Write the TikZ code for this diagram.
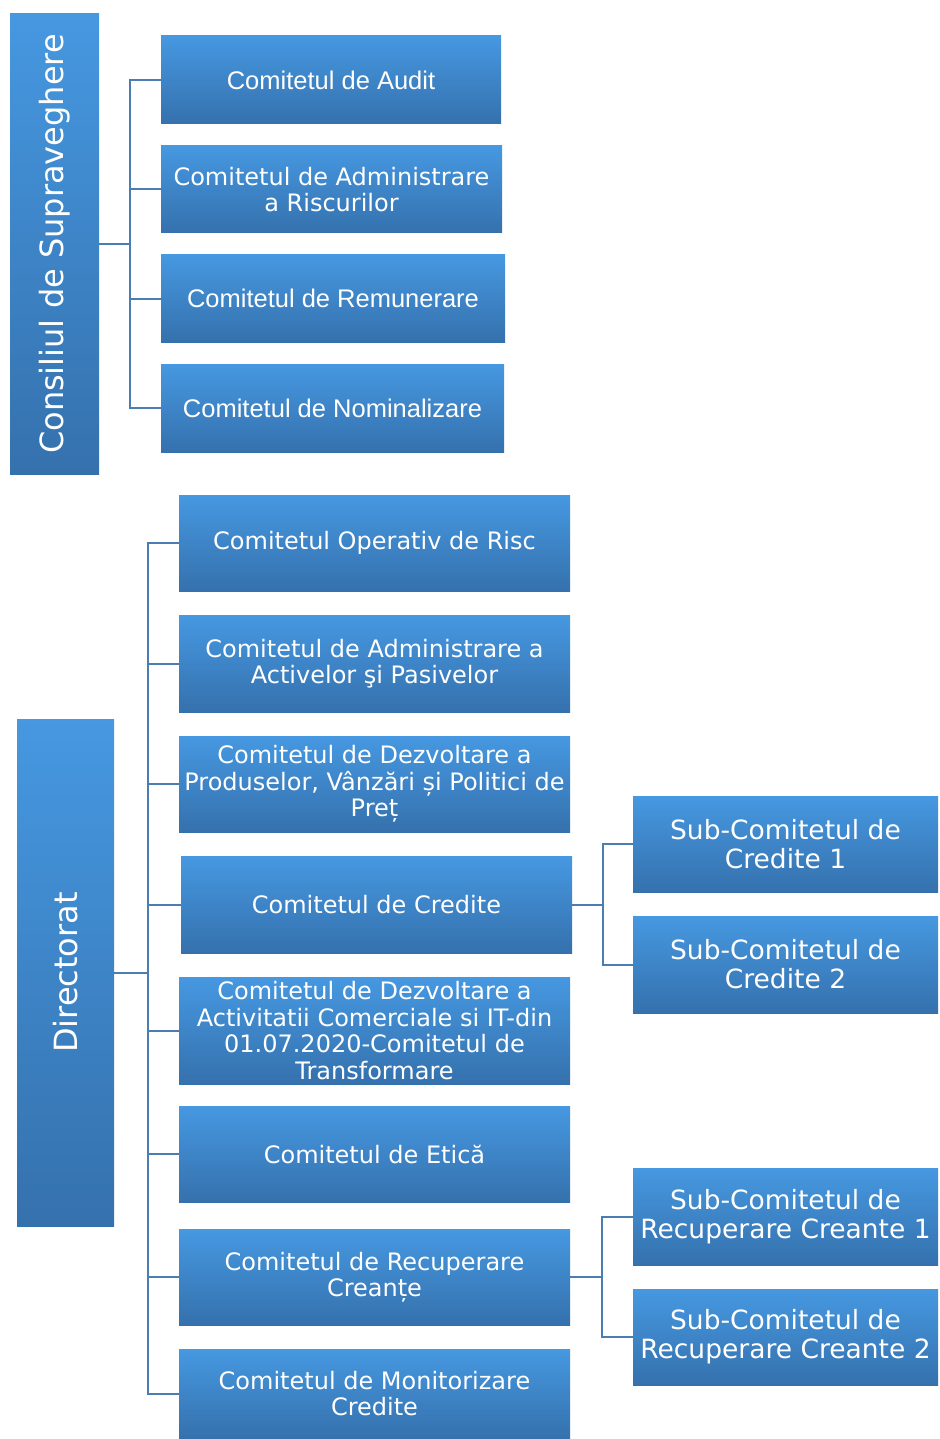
\documentclass[tikz,border=0pt]{standalone}
\usepackage{fontspec}
\setmainfont{DejaVu Sans}
\newfontfamily\arialfont{Liberation Sans}
\usepackage{tikz}

\definecolor{boxtop}{HTML}{4698E1}
\definecolor{boxbot}{HTML}{3571AD}
\definecolor{linkblue}{HTML}{4A7DB1}

\begin{document}
\begin{tikzpicture}[x=1pt,y=-1pt,
  box/.style={rectangle,top color=boxtop,bottom color=boxbot,text=white,
    align=center,inner sep=0pt,font=\fontsize{24}{26.5}\selectfont},
  arial box/.style={box,font=\arialfont\fontsize{25.5}{28}\selectfont},
  sub box/.style={box,minimum width=305,font=\fontsize{26.5}{29}\selectfont},
  head box/.style={box,font=\fontsize{32}{35}\selectfont},
  low box/.style={box,minimum width=391},
  link/.style={draw=linkblue,line width=2pt}]
  \useasboundingbox (0,0) rectangle (939,1439);

  % Consiliul de Supraveghere
  \node[head box,minimum width=89,minimum height=460] (cs) at (54.5,244)
    {\rotatebox{90}{Consiliul de Supraveghere}};
  \node[arial box,minimum width=340,minimum height=88] (audit) at (331,80) {Comitetul de Audit};
  \node[box,minimum width=341,minimum height=87] (riscuri) at (331.5,189.5)
    {Comitetul de Administrare\\a Riscurilor};
  \node[arial box,minimum width=344,minimum height=87] (remun) at (333,298.5) {Comitetul de Remunerare};
  \node[arial box,minimum width=343,minimum height=88] (nomin) at (332.5,408) {Comitetul de Nominalizare};

  % Directorat
  \node[head box,minimum width=97,minimum height=507] (dir) at (65.5,972.5)
    {\rotatebox{90}{Directorat}};
  \node[low box,minimum height=96] (oper) at (374.5,543) {Comitetul Operativ de Risc};
  \node[low box,minimum height=97] (activ) at (374.5,663.5)
    {Comitetul de Administrare a\\Activelor şi Pasivelor};
  \node[low box,minimum height=96] (prod) at (374.5,784)
    {Comitetul de Dezvoltare a\\Produselor, Vânzări și Politici de\\Preț};
  \node[low box,minimum height=97] (cred) at (376.5,904.5) {Comitetul de Credite};
  \node[low box,minimum height=107] (transf) at (374.5,1030.5)
    {Comitetul de Dezvoltare a\\Activitatii Comerciale si IT-din\\01.07.2020-Comitetul de\\Transformare};
  \node[low box,minimum height=96] (etica) at (374.5,1154) {Comitetul de Etică};
  \node[low box,minimum height=96] (recup) at (374.5,1277)
    {Comitetul de Recuperare\\Creanțe};
  \node[low box,minimum height=89] (monit) at (374.5,1393.5)
    {Comitetul de Monitorizare\\Credite};

  % sub-comitete
  \node[sub box,minimum height=96] (subcred1) at (785.5,844) {Sub-Comitetul de\\Credite 1};
  \node[sub box,minimum height=97] (subcred2) at (785.5,964.5) {Sub-Comitetul de\\Credite 2};
  \node[sub box,minimum height=97] (subrec1) at (785.5,1216.5) {Sub-Comitetul de\\Recuperare Creante 1};
  \node[sub box,minimum height=96] (subrec2) at (785.5,1337) {Sub-Comitetul de\\Recuperare Creante 2};

  % connectors
  \coordinate (csbus) at (130,244);
  \coordinate (dirbus) at (148,972.5);
  \coordinate (credbus) at (603,904.5);
  \coordinate (recbus) at (602,1277);

  \draw[link] (cs.east) -- (csbus);
  \foreach \n in {audit,riscuri,remun,nomin}
    \draw[link] (csbus) |- (\n.west);

  \draw[link] (dir.east) -- (dirbus);
  \foreach \n in {oper,activ,prod,cred,transf,etica,recup,monit}
    \draw[link] (dirbus) |- (\n.west);

  \draw[link] (cred.east) -- (credbus);
  \foreach \n in {subcred1,subcred2}
    \draw[link] (credbus) |- (\n.west);

  \draw[link] (recup.east) -- (recbus);
  \foreach \n in {subrec1,subrec2}
    \draw[link] (recbus) |- (\n.west);
\end{tikzpicture}
\end{document}
